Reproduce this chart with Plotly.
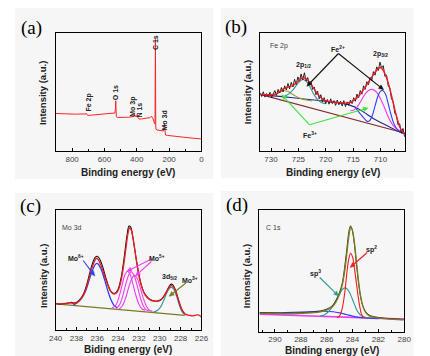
import plotly.graph_objects as go
import math

W, H = 430, 356

# ---------------- (a) survey ----------------
a_energy = [900, 880, 860, 840, 820, 800, 780, 760, 740, 725, 715, 712, 708, 704, 690, 670, 650, 630, 610, 590,
            570, 550, 540, 535, 532, 530, 528, 526, 520, 500, 480, 460, 440, 425, 416, 414, 411, 405, 399, 397,
            395, 390, 380, 370, 350, 330, 318, 312, 306, 300, 296, 292, 289, 287, 285.5, 284.5, 283.5, 282.5, 281,
            275, 260, 245, 235, 232, 230, 228.5, 227, 225, 222, 210, 190, 170, 150, 130, 110, 90, 70, 50, 30, 10, 0]
a_int = [31.8, 31.6, 31.5, 31.6, 31.3, 31.4, 31.2, 31.3, 31.1, 31.2, 31.4, 31.9, 31.0, 30.2, 30.3, 30.6, 30.9, 31.2, 31.5, 31.8,
         32.1, 32.5, 32.6, 32.2, 36.0, 42.5, 34.0, 29.0, 28.4, 28.3, 28.5, 28.6, 28.8, 29.0, 29.3, 30.8, 29.5, 29.0, 29.3, 31.2,
         29.0, 27.5, 27.0, 27.2, 27.4, 27.8, 28.3, 29.2, 29.0, 27.5, 25.0, 23.5, 23.0, 25.0, 60.0, 94.5, 55.0, 22.0, 18.5,
         17.8, 17.5, 17.2, 17.0, 18.5, 20.5, 23.5, 19.0, 14.5, 13.5, 13.2, 13.0, 12.6, 12.3, 12.0, 11.7, 11.4, 11.1, 10.8, 10.6, 10.4, 10.2]
a_peaks = ["Fe 2p", "O 1s", "Mo 3p", "N 1s", "C 1s", "Mo 3d"]

# ---------------- (b) Fe 2p ----------------
b_raw_start, b_raw_step = 732.0, -0.3
b_raw = [49, 46, 50, 45.5, 48.5, 46, 49.5, 45, 48, 51, 47, 52, 49, 53.5, 50, 55, 51.5, 57, 52.5, 58, 54, 60.5, 56, 62.5,
         59, 65, 60, 66, 59, 62, 56, 58.5, 52, 54, 47.5, 50.5, 44, 47.5, 41.5, 45, 40, 43.5, 39.5, 44, 40, 42.5, 38.5,
         43, 39, 42, 38, 42.5, 37.5, 41.5, 38.5, 43, 40, 45, 42, 48, 45, 51, 48, 55, 52, 58.5, 56, 62, 59.5, 67, 64, 71,
         68, 75, 70, 72, 63, 64, 55, 53, 44, 42, 32, 30, 22, 23, 15, 19, 12]
b_raw_e = [round(b_raw_start + i * b_raw_step, 2) for i in range(len(b_raw))]
b_fit_e = [732, 731, 730, 729, 728.5, 728, 727.5, 727, 726.5, 726, 725.5, 725, 724.5, 724, 723.5, 723, 722.5, 722,
           721.5, 721, 720.5, 720, 719, 718, 717, 716, 715.5, 715, 714.5, 714, 713.5, 713, 712.5, 712, 711.5, 711,
           710.5, 710, 709.5, 709, 708.5, 708, 707.5, 707, 706.5, 706, 705.5]
b_fit = [47.8, 47.5, 47.5, 48.5, 50, 51.5, 53, 53.8, 54.5, 55.2, 57, 59, 61.3, 61.8, 60.5, 58, 55, 51.5,
         48, 45.5, 43.5, 42.3, 41.5, 41, 40.5, 40.5, 41, 42.3, 44, 46.3, 49, 52.5, 56, 59.5, 63, 66.5,
         69, 70.5, 68, 63, 56, 47, 37, 28, 20.5, 16.5, 14.5]
b_olive_e = [730.5, 730, 729, 728.2, 727.5, 727, 726.3, 725.5, 724.5, 723.5, 722.5]
b_olive = [47.3, 47.4, 48.4, 50.0, 50.8, 50.4, 48.6, 46.3, 44.2, 43.0, 42.2]
b_teal_e = [727.5, 726.8, 726.0, 725.2, 724.5, 724.0, 723.4, 722.7, 722.0, 721.3, 720.6, 720.0]
b_teal = [46.5, 48, 51.5, 56.5, 59.8, 60.2, 58, 52.5, 46.5, 42.5, 40.5, 40]
b_mag_e = [715.5, 714.9, 714.3, 713.6, 712.9, 712.2, 711.5, 710.8, 710.1, 709.4, 708.7, 708.0, 707.3, 706.6, 705.8]
b_mag = [34, 34.5, 37, 42, 47.5, 51, 52, 50, 45, 38, 30, 23.5, 19.5, 17.5, 16]
b_blue_e = [714.5, 713.8, 713.0, 712.4, 712.0, 711.5, 711.0, 710.5, 710.0, 709.6, 709.1, 708.6, 708.1, 707.6, 707.0, 706.4, 705.8]
b_blue = [36, 32, 27.5, 25, 25.5, 30, 38, 46, 50.5, 51, 48, 40, 31, 23.5, 18.5, 16, 15]
b_navy_e = [732, 729, 726, 723, 720, 717.5, 715.5, 714, 712.5, 711, 709.5, 708, 706.5, 705.5]
b_navy = [47.8, 46.3, 45, 43.5, 42, 40.5, 38.5, 35.5, 31, 26.5, 23, 19.5, 16, 14.5]
b_brown_e = [732, 705.5]
b_brown = [47.8, 15.0]

# ---------------- (c) Mo 3d ----------------
c_fit_e = [240.0, 239.5, 239.0, 238.6, 238.3, 238.0, 237.7, 237.4, 237.1, 236.8, 236.5, 236.2, 236.05, 235.9, 235.6,
           235.3, 235.0, 234.7, 234.4, 234.1, 233.8, 233.5, 233.25, 233.05, 232.9, 232.75, 232.5, 232.25, 232.0,
           231.7, 231.4, 231.0, 230.6, 230.2, 229.8, 229.5, 229.2, 229.0, 228.85, 228.7, 228.4, 228.1, 227.8,
           227.5, 227.2, 226.8, 226.5, 226.3, 226.0]
c_fit = [22.0, 21.8, 22.0, 22.6, 22.3, 22.6, 24.5, 28, 34, 43, 52, 58.5, 59.8, 58.5, 53,
         45, 37.5, 32, 30, 31.5, 38, 52, 68, 80.5, 85, 83.5, 73, 58, 45,
         35, 29, 25.5, 24, 24.2, 26, 29.5, 34, 36.5, 37, 36, 30.5, 22, 15.5,
         13, 12.3, 11.8, 12.4, 12.6, 10.8]
c_raw_e = [240.0, 239.6, 239.2, 238.8, 238.5, 238.2, 237.9, 237.6, 237.3, 237.0, 236.7, 236.4, 236.2, 236.0, 235.8,
           235.5, 235.2, 234.9, 234.6, 234.3, 234.0, 233.7, 233.4, 233.15, 232.95, 232.8, 232.6, 232.35, 232.1,
           231.8, 231.5, 231.1, 230.7, 230.3, 229.9, 229.6, 229.3, 229.05, 228.9, 228.75, 228.5, 228.2, 227.9, 227.6]
c_raw = [22.3, 21.6, 22.1, 22.4, 23.0, 22.4, 23.6, 26.2, 30.5, 38.2, 48.5, 57.0, 60.6, 61.4, 59.6,
         53.2, 44.0, 36.0, 31.2, 30.6, 34.0, 44.0, 61.5, 78.5, 86.6, 86.0, 78.0, 64.0, 51.0,
         38.5, 31.0, 26.5, 24.6, 24.0, 25.0, 28.2, 33.0, 37.0, 38.2, 37.6, 33.5, 25.0, 17.5, 13.2]
c_blue_e = [238.3, 237.9, 237.5, 237.1, 236.8, 236.5, 236.2, 236.05, 235.9, 235.6, 235.3, 235.0, 234.7, 234.4, 234.1]
c_blue = [20.8, 23, 26.5, 33, 41, 49, 54.5, 55.5, 54.8, 50, 42, 33, 25.5, 20.5, 18.6]
c_mag1_e = [234.6, 234.2, 233.9, 233.6, 233.35, 233.1, 232.85, 232.6, 232.3, 232.0, 231.7, 231.4]
c_mag1 = [18.2, 21, 28, 38, 46, 49, 46.5, 39, 29, 21.5, 17.5, 16.5]
c_mag2_e = [234.2, 233.9, 233.6, 233.3, 233.0, 232.75, 232.5, 232.2, 231.9, 231.6, 231.3, 231.0]
c_mag2 = [17.8, 20.5, 27, 37, 45.5, 48.5, 46, 38, 28, 20.5, 16.8, 16]
c_mag3_e = [233.9, 233.6, 233.3, 233.0, 232.7, 232.45, 232.2, 231.9, 231.6, 231.3, 231.0, 230.7]
c_mag3 = [17.5, 20, 26, 35, 42.5, 45.5, 43.5, 36, 27, 20, 16.5, 15.5]
c_teal_e = [230.6, 230.2, 229.9, 229.6, 229.3, 229.05, 228.9, 228.7, 228.4, 228.1, 227.8, 227.5]
c_teal = [15, 16.5, 19.5, 25, 31.5, 35, 35.5, 34.5, 28.5, 20, 14.5, 12.8]
c_base_e = [240, 227.6]
c_base = [21.8, 12.2]

# ---------------- (d) C 1s ----------------
d_fit_e = [291.2, 290, 289, 288, 287, 286.5, 286, 285.6, 285.3, 285.0, 284.8, 284.6, 284.45, 284.3, 284.2, 284.12,
           284.0, 283.85, 283.7, 283.55, 283.4, 283.2, 283.0, 282.7, 282.3, 281.5, 280.5, 280.0]
d_fit = [15.2, 14.8, 14.6, 15.0, 15.6, 16.3, 17.8, 20, 24, 31, 38, 50, 63, 77, 84, 86,
         83, 73, 58, 43, 31, 21, 16, 13, 11.8, 10.7, 10.0, 9.8]
d_raw_e = [291.2, 290, 289, 288, 287, 286.5, 286, 285.6, 285.3, 285.0, 284.8, 284.62, 284.47, 284.33, 284.23, 284.15,
           284.03, 283.88, 283.73, 283.58, 283.43, 283.23, 283.0, 282.7, 282.3, 281.5, 280.5, 280.0]
d_raw = [15.8, 15.5, 15.2, 15.6, 16.2, 17.0, 18.6, 21, 25.2, 32.5, 39.5, 52, 65, 78.5, 85, 87,
         84, 74, 59, 44, 32, 22, 16.8, 13.6, 12.3, 11.1, 10.4, 10.1]
d_red_e = [285.2, 285.0, 284.8, 284.6, 284.45, 284.3, 284.15, 284.0, 283.85, 283.7, 283.55, 283.4, 283.25, 283.0]
d_red = [11.5, 13, 19, 32, 47, 59, 64.5, 61.5, 52, 40, 28, 18.5, 13, 11.2]
d_teal_e = [286.5, 286.2, 285.9, 285.6, 285.3, 285.0, 284.8, 284.6, 284.4, 284.2, 284.0, 283.8, 283.6, 283.3, 283.0, 282.7]
d_teal = [13.0, 13.8, 16, 20, 25.5, 31, 34.5, 36, 35, 31.5, 26.5, 21, 16.5, 13, 11.8, 11.2]
d_blue_e = [291.2, 289.5, 288, 287, 286.2, 285.5, 285.0, 284.5, 284.0, 283.5, 283.0, 282.5, 282.0]
d_blue = [15.2, 15.6, 16.2, 16.6, 16.8, 16.4, 15.5, 14.2, 12.8, 11.8, 11.2, 10.8, 10.6]
d_mag_e = [291.2, 280]
d_mag = [14.4, 10.3]

RED = "#ee1c24"
BLACK = "#111111"
OLIVE = "#9a9a30"
TEAL = "#2f9a9a"
MAGENTA = "#f03cf0"
BLUE = "#3040f0"
NAVY = "#262690"
BROWN = "#8a2a2a"
GREEN = "#40e040"
DOLIVE = "#7a7a22"

fig = go.Figure()


def add(x, y, color, ax, width=1.1, shape="spline"):
    fig.add_trace(go.Scatter(x=x, y=y, mode="lines", line=dict(color=color, width=width, shape=shape),
                             xaxis=ax[0], yaxis=ax[1], showlegend=False, hoverinfo="skip"))


A = ("x", "y")
B = ("x2", "y2")
C = ("x3", "y3")
D = ("x4", "y4")

# (a)
add(a_energy, a_int, "#ff2222", A, 1.0, "linear")
# (b)
add(b_brown_e, b_brown, BROWN, B, 1.2, "linear")
add(b_navy_e, b_navy, NAVY, B, 1.1)
add(b_olive_e, b_olive, OLIVE, B, 1.1)
add(b_teal_e, b_teal, TEAL, B, 1.1)
add(b_mag_e, b_mag, MAGENTA, B, 1.1)
add(b_blue_e, b_blue, BLUE, B, 1.1)
add(b_raw_e, b_raw, BLACK, B, 0.9, "linear")
add(b_fit_e, b_fit, RED, B, 1.4)
# (c)
add(c_base_e, c_base, DOLIVE, C, 1.1, "linear")
add(c_blue_e, c_blue, BLUE, C, 1.3)
add(c_mag1_e, c_mag1, MAGENTA, C, 1.1)
add(c_mag2_e, c_mag2, MAGENTA, C, 1.1)
add(c_mag3_e, c_mag3, MAGENTA, C, 1.1)
add(c_teal_e, c_teal, TEAL, C, 1.1)
add(c_raw_e, c_raw, BLACK, C, 1.1)
add(c_fit_e, c_fit, RED, C, 1.3)
# (d)
add(d_mag_e, d_mag, MAGENTA, D, 1.6, "linear")
add(d_blue_e, d_blue, BLUE, D, 1.1)
add(d_teal_e, d_teal, TEAL, D, 1.1)
add(d_red_e, d_red, RED, D, 1.1)
add(d_raw_e, d_raw, "#3a3a10", D, 1.0)
add(d_fit_e, d_fit, DOLIVE, D, 1.3)

TICKFONT = dict(family="Liberation Sans, Arial", size=8, color="#444444")


def xax(domain, rng, dtick, minor, anchor):
    return dict(domain=domain, range=rng, anchor=anchor, dtick=dtick, tick0=0, ticks="inside", ticklen=3,
                tickcolor="black", tickwidth=0.8, minor=dict(ticks="inside", ticklen=2, dtick=minor, tick0=0,
                                                               tickcolor="black"),
                showline=True, linecolor="black", linewidth=1, mirror=True, showgrid=False, zeroline=False,
                tickfont=TICKFONT, fixedrange=True)


def yax(domain, anchor):
    return dict(domain=domain, range=[0, 100], anchor=anchor, showticklabels=False, ticks="", showline=True,
                linecolor="black", linewidth=1, mirror=True, showgrid=False, zeroline=False, fixedrange=True)


def dx(x0, x1):
    return [x0 / W, x1 / W]


def dy(top, bottom):
    return [1 - bottom / H, 1 - top / H]


layout = dict(
    width=W, height=H, margin=dict(l=0, r=0, t=0, b=0), paper_bgcolor="white", plot_bgcolor="white",
    xaxis=xax(dx(42, 192.7), [902, 0], 200, 100, "y"),
    yaxis=yax(dy(25, 143), "x"),
    xaxis2=xax(dx(253.3, 403.3), [732, 705.5], 5, 2.5, "y2"),
    yaxis2=yax(dy(24.5, 143), "x2"),
    xaxis3=xax(dx(42, 192.7), [240, 226], 2, 1, "y3"),
    yaxis3=yax(dy(202, 322), "x3"),
    xaxis4=xax(dx(252.7, 402.3), [291.2, 280], 2, 1, "y4"),
    yaxis4=yax(dy(202, 323.7), "x4"),
)
fig.update_layout(**layout)

# panel backgrounds
shapes = []
for (x0, y0, x1, y1) in [(0, 0, 205, 171), (213, 0, 412, 170), (0, 185, 205, 352), (213, 183, 412, 352)]:
    shapes.append(dict(type="rect", xref="paper", yref="paper", x0=x0 / W, x1=x1 / W, y0=1 - y1 / H, y1=1 - y0 / H,
                       fillcolor="#f6f6f6", line=dict(width=0), layer="below"))


def px2paper(x, y):
    return x / W, 1 - y / H


def arrow(tx, ty, hx, hy, color, L=5.0, hw=2.2):
    # shaft
    x0, y0 = px2paper(tx, ty)
    dxp, dyp = hx - tx, hy - ty
    n = math.hypot(dxp, dyp)
    ux, uy = dxp / n, dyp / n
    bx, by = hx - ux * L, hy - uy * L
    x1, y1 = px2paper(bx, by)
    shapes.append(dict(type="line", xref="paper", yref="paper", x0=x0, y0=y0, x1=x1, y1=y1,
                       line=dict(color=color, width=1.1)))
    # head
    nx, ny = -uy, ux
    pts = [(hx, hy), (bx + nx * hw, by + ny * hw), (bx - nx * hw, by - ny * hw)]
    path = "M " + " L ".join("%.5f,%.5f" % px2paper(px, py) for px, py in pts) + " Z"
    shapes.append(dict(type="path", xref="paper", yref="paper", path=path, fillcolor=color,
                       line=dict(color=color, width=0.5)))


ann = []


def P(x, y):
    return dict(x=x / W, y=1 - y / H, xref="paper", yref="paper")


def txt(x, y, t, size=6.5, color="#222222", angle=0, xanchor="center", bold=False, family="Liberation Sans, Arial"):
    if bold:
        t = "<b>" + t + "</b>"
    ann.append(dict(**P(x, y), text=t, showarrow=False, textangle=angle, xanchor=xanchor, yanchor="middle",
                    font=dict(family=family, size=size, color=color)))


# panel letters
for (x, y, t) in [(17, 20, "(a)"), (228, 19, "(b)"), (16.5, 198, "(c)"), (229.5, 197, "(d)")]:
    txt(x, y, t, size=19, color="black", family="Liberation Serif, Times New Roman")

# axis titles
for (x, y, t) in [(117, 164, "Binding energy (eV)"), (329, 164, "Binding energy (eV)"),
                  (117, 341.5, "Biding energy (eV)"), (328, 342, "Binding energy (eV)")]:
    txt(x, y, t, size=10, color="#222222", bold=True)
for (x, y) in [(29, 85), (240, 84), (29, 268), (239, 268)]:
    txt(x, y, "Intensity (a.u.)", size=9.5, color="#222222", angle=-90, bold=True)

# (a) peak labels
for (x, y), t in zip([(76, 95), (104.6, 85), (121.7, 99), (128.8, 102), (145.8, 35), (154.6, 113)], a_peaks):
    txt(x, y, t, size=7, color="#222222", angle=-90, bold=True)

# (b) labels
txt(262, 38.3, "Fe 2p", size=7, color="#444444", xanchor="left")
txt(333.5, 41, "Fe<sup>2+</sup>", size=7, bold=True)
txt(305, 127, "Fe<sup>3+</sup>", size=7, bold=True)
txt(298.3, 57.3, "2p<sub>1/2</sub>", size=7, bold=True)
txt(378.3, 46, "2p<sub>3/2</sub>", size=7, bold=True)
arrow(334.3, 45.5, 301.7, 78.3, BLACK)
arrow(334.3, 45.5, 381, 81.7, BLACK)
arrow(304.3, 116.7, 275.7, 86.7, GREEN)
arrow(304.3, 116.7, 365, 100, GREEN)

# (c) labels
txt(46, 219.7, "Mo 3d", size=7, color="#444444", xanchor="left")
txt(63.3, 249.7, "Mo<sup>6+</sup>", size=7, bold=True)
txt(146.7, 249.7, "Mo<sup>5+</sup>", size=7, bold=True)
txt(160, 269, "3d<sub>5/2</sub>", size=7, bold=True)
txt(181, 271.5, "Mo<sup>3+</sup>", size=7, bold=True)
arrow(70.5, 252.5, 82.5, 268, BLUE)
arrow(141, 251, 115.5, 263.5, MAGENTA)
arrow(141, 253.5, 124.5, 268, MAGENTA)
arrow(176.7, 275, 159.3, 288.3, DOLIVE)

# (d) labels
txt(257, 219.7, "C 1s", size=7, color="#444444", xanchor="left")
txt(368.3, 241.3, "sp<sup>2</sup>", size=7, bold=True)
txt(311, 265.3, "sp<sup>3</sup>", size=7, bold=True)
arrow(364, 244.5, 346.5, 259.5, RED)
arrow(315, 269.5, 334.5, 288, TEAL)

fig.update_layout(shapes=shapes, annotations=ann)
fig.write_html("out.html")
